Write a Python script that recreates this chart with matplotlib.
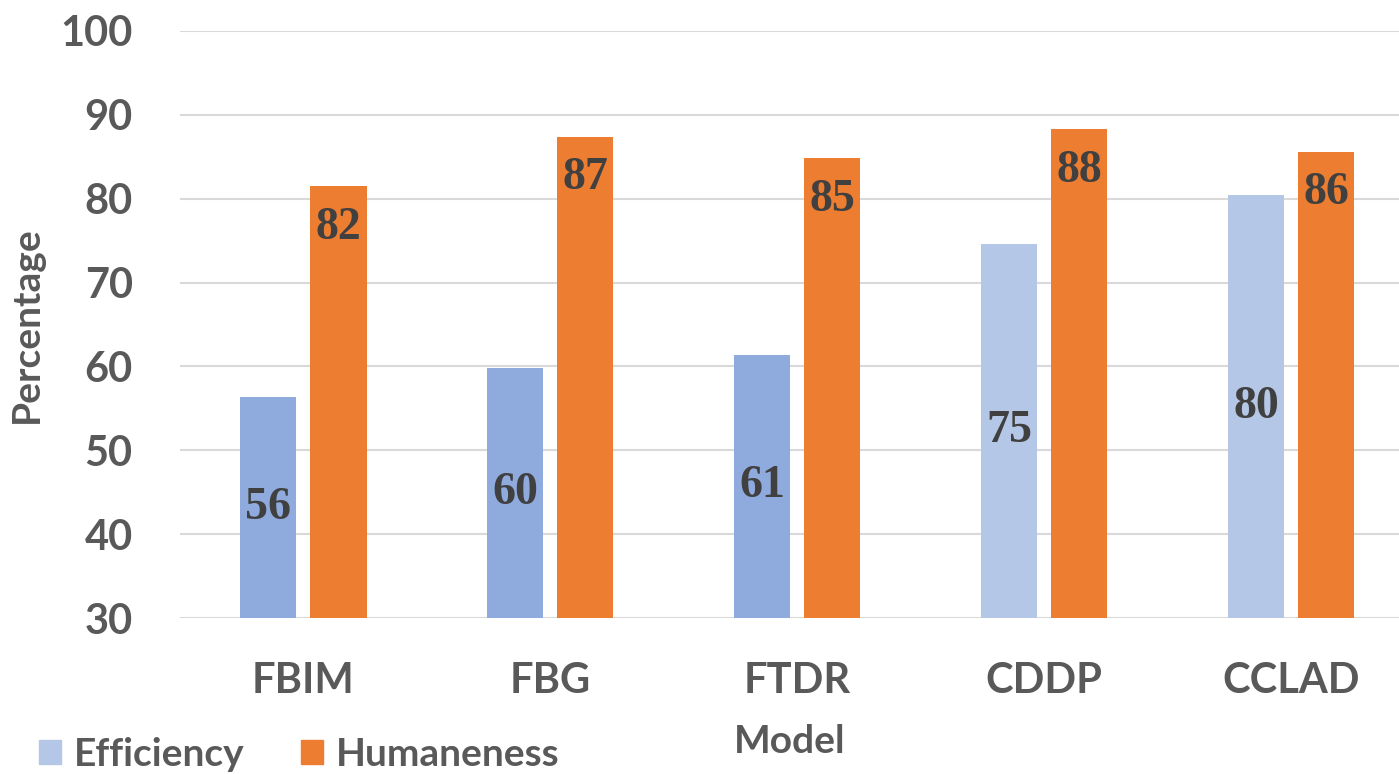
import matplotlib.pyplot as plt
from matplotlib.patches import Patch
import numpy as np

models = ["FBIM", "FBG", "FTDR", "CDDP", "CCLAD"]
efficiency = [56.3, 59.8, 61.4, 74.6, 80.4]
humaneness = [81.5, 87.4, 84.8, 88.3, 85.6]
eff_labels = ["56", "60", "61", "75", "80"]
hum_labels = ["82", "87", "85", "88", "86"]

eff_colors = ["#8faadc", "#8faadc", "#8faadc", "#b4c7e7", "#b4c7e7"]
hum_color = "#ed7d31"
text_grey = "#595959"
label_dark = "#404040"

plt.rcParams['font.family'] = ['Lato', 'DejaVu Sans']

fig = plt.figure(figsize=(13.99, 7.74), dpi=100)
ax = fig.add_axes([180 / 1399, 1 - 618 / 774, 1 - 180 / 1399, (618 - 31) / 774])

x = np.arange(len(models))
w = 0.227
off = 0.142

ax.bar(x - off, [v - 30 for v in efficiency], w, bottom=30, color=eff_colors, zorder=3)
ax.bar(x + off, [v - 30 for v in humaneness], w, bottom=30, color=hum_color, zorder=3)

for i in range(len(models)):
    ax.text(x[i] - off, (efficiency[i] + 30) / 2, eff_labels[i], ha='center', va='center',
            fontsize=33, fontweight='bold', family='Liberation Serif', color=label_dark, zorder=4)
    ax.annotate(hum_labels[i], (x[i] + off, humaneness[i]), xytext=(0, -30),
                textcoords='offset points', ha='center', va='center',
                fontsize=33, fontweight='bold', family='Liberation Serif', color=label_dark, zorder=4)

ax.set_ylim(30, 100)
ax.set_xlim(-0.5, 4.437)
ax.set_yticks(range(30, 101, 10))
ax.set_xticks(x)
ax.set_xticklabels(models)
ax.yaxis.grid(True, color="#d9d9d9", linewidth=1.5, zorder=0)
ax.set_axisbelow(True)
for s in ax.spines.values():
    s.set_visible(False)
ax.tick_params(axis='both', length=0, labelsize=30, labelcolor=text_grey)
ax.tick_params(axis='y', pad=34)
ax.tick_params(axis='x', pad=32)
for t in ax.get_xticklabels() + ax.get_yticklabels():
    t.set_fontweight('bold')

ax.set_xlabel("Model", fontsize=28, fontweight='bold', color=text_grey, labelpad=17)
ax.set_ylabel("Percentage", fontsize=28, fontweight='bold', color=text_grey, labelpad=12)

handles = [Patch(color="#b4c7e7", label="Efficiency"), Patch(color=hum_color, label="Humaneness")]
fig.legend(handles=handles, loc='lower left', bbox_to_anchor=(0.028, 0.003), ncol=2, frameon=False,
           prop={'size': 28, 'weight': 'bold'}, labelcolor=text_grey, handlelength=0.57,
           handleheight=0.57, handletextpad=0.33, columnspacing=1.44, borderpad=0, borderaxespad=0)

fig.savefig("out.png", dpi=100)
